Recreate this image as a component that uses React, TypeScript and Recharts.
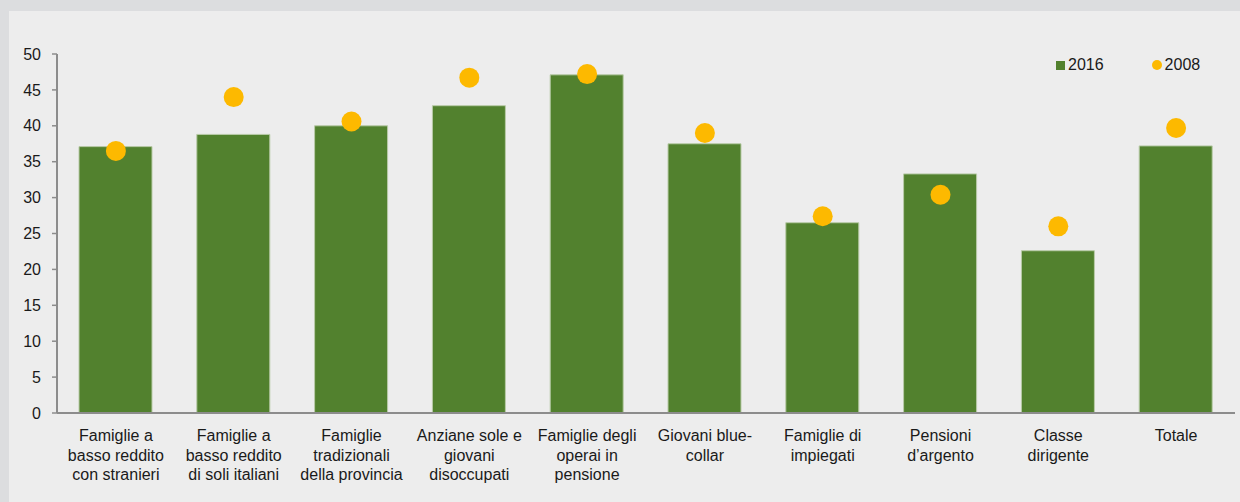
import React from "react";
import { ComposedChart, Bar, Line, XAxis, YAxis } from "recharts";

const categories: string[] = [
  "Famiglie a\nbasso reddito\ncon stranieri",
  "Famiglie a\nbasso reddito\ndi soli italiani",
  "Famiglie\ntradizionali\ndella provincia",
  "Anziane sole e\ngiovani\ndisoccupati",
  "Famiglie degli\noperai in\npensione",
  "Giovani blue-\ncollar",
  "Famiglie di\nimpiegati",
  "Pensioni\nd\u2019argento",
  "Classe\ndirigente",
  "Totale",
];
const values2016: number[] = [37.1, 38.8, 40.0, 42.8, 47.1, 37.5, 26.5, 33.3, 22.6, 37.2];
const values2008: number[] = [36.5, 44.0, 40.6, 46.7, 47.2, 39.0, 27.4, 30.4, 26.0, 39.7];
const yTicks: number[] = [0, 5, 10, 15, 20, 25, 30, 35, 40, 45, 50];
const boundaryTicks: number[] = [0, 1, 2, 3, 4, 5, 6, 7, 8, 9, 10];
const seriesNames = { s2016: "2016", s2008: "2008" };

const data = categories.map((c, i) => ({
  cat: c,
  idx: i + 0.5,
  v2016: values2016[i],
  v2008: values2008[i],
}));

const FONT = "'Liberation Sans', Arial, sans-serif";
const GREEN = "#52812E";
const GOLD = "#FDB900";
const AXIS = "#8C8C8C";

const CatTick = (props: any) => {
  const { x, y, payload } = props;
  const lines = String(payload.value).split("\n");
  return (
    <text x={x} y={y} textAnchor="middle" fontSize={16} fontFamily={FONT} fill="#1a1a1a">
      {lines.map((l, i) => (
        <tspan key={i} x={x} dy={i === 0 ? "0.71em" : "1.22em"}>
          {l}
        </tspan>
      ))}
    </text>
  );
};

const LegendBox = () => (
  <div
    style={{
      position: "absolute",
      left: 1056,
      top: 55,
      display: "flex",
      alignItems: "center",
      fontFamily: FONT,
      fontSize: 16,
      lineHeight: "20px",
      color: "#1a1a1a",
    }}
  >
    <span style={{ display: "inline-block", width: 9, height: 9, background: GREEN, marginRight: 3 }} />
    <span style={{ marginRight: 48 }}>{seriesNames.s2016}</span>
    <span style={{ display: "inline-block", width: 10, height: 10, borderRadius: "50%", background: GOLD, marginRight: 3 }} />
    <span>{seriesNames.s2008}</span>
  </div>
);

export default function App() {
  return (
    <div style={{ position: "absolute", left: 0, top: 0, width: 1240, height: 502, background: "#EDEDED", overflow: "hidden" }}>
      <style>{"html,body{margin:0;overflow:hidden;background:#EDEDED;}"}</style>
      <div style={{ position: "absolute", left: 0, top: 0, width: 1240, height: 11, background: "#DCDDDF" }} />
      <div style={{ position: "absolute", left: 0, top: 0, width: 9, height: 502, background: "#DCDDDF" }} />
      <div style={{ position: "absolute", left: 0, top: 0 }}>
        <ComposedChart
          width={1240}
          height={502}
          data={data}
          margin={{ top: 54, right: 5, bottom: 0, left: 0 }}
          barCategoryGap={0}
        >
          <XAxis
            xAxisId="a"
            type="number"
            dataKey="idx"
            domain={[0, 10]}
            ticks={boundaryTicks}
            allowDataOverflow
            height={1}
            tick={false}
            tickSize={5}
            tickLine={{ stroke: AXIS, strokeWidth: 1.5 }}
            axisLine={{ stroke: AXIS, strokeWidth: 2 }}
          />
          <XAxis
            xAxisId="b"
            dataKey="cat"
            height={88}
            axisLine={false}
            tickLine={false}
            tickSize={0}
            tickMargin={16}
            interval={0}
            tick={<CatTick />}
          />
          <YAxis
            width={57}
            domain={[0, 50]}
            ticks={yTicks}
            interval={0}
            tickSize={5}
            tickMargin={11}
            tickLine={{ stroke: AXIS, strokeWidth: 1.5 }}
            axisLine={{ stroke: AXIS, strokeWidth: 2 }}
            tick={{ fontSize: 16, fontFamily: FONT, fill: "#1a1a1a" }}
          />
          <Bar
            xAxisId="b"
            dataKey="v2016"
            name={seriesNames.s2016}
            fill={GREEN}
            stroke="#B9CBA8"
            strokeWidth={1}
            barSize={73}
            isAnimationActive={false}
          />
          <Line
            xAxisId="a"
            dataKey="v2008"
            name={seriesNames.s2008}
            stroke="none"
            dot={{ r: 10, fill: GOLD, stroke: "none" }}
            activeDot={false}
            isAnimationActive={false}
          />
        </ComposedChart>
      </div>
      <LegendBox />
    </div>
  );
}
